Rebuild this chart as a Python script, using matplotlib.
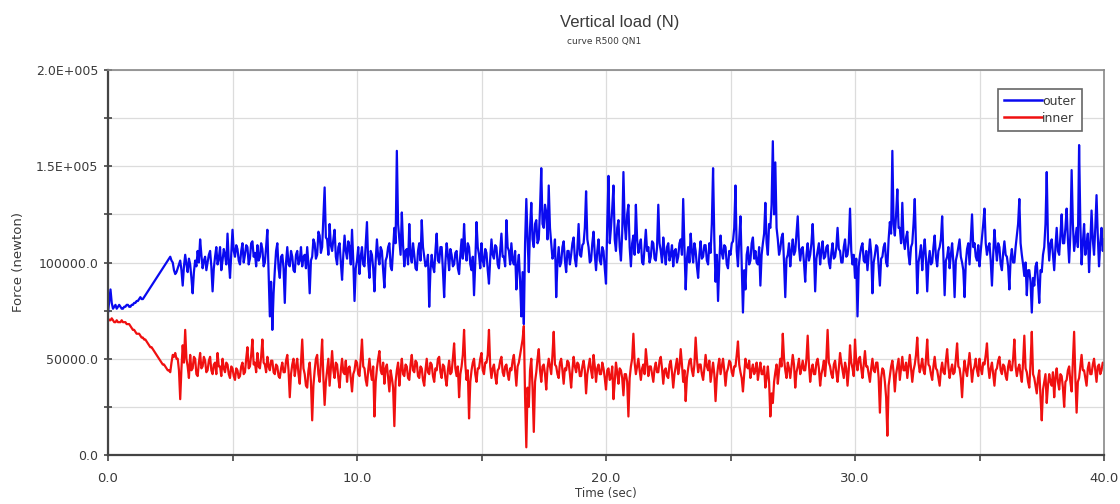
import numpy as np
import matplotlib
matplotlib.use("Agg")
import matplotlib.pyplot as plt
from matplotlib.ticker import MultipleLocator, FuncFormatter

# time base, one reading every 0.05 s from 0 to 40 s
time_step = 0.05

# outer wheel vertical load, kN, 20 readings per second
outer_kn = [
    74, 80, 86, 79, 76, 77, 78, 76, 77, 78, 77, 76, 76, 77, 77, 78, 78, 77, 77, 78,
    78, 79, 79, 80, 80, 81, 82, 81, 81, 82, 83, 84, 85, 86, 87, 88, 89, 90, 91, 92,
    93, 94, 95, 96, 97, 98, 99, 100, 101, 102, 103, 101, 100, 96, 94, 95, 97, 99, 101, 96,
    88, 98, 104, 99, 95, 102, 99, 92, 84, 95, 101, 98, 106, 100, 112, 104, 97, 101, 103, 96,
    100, 104, 106, 98, 85, 97, 103, 108, 99, 102, 108, 96, 101, 107, 104, 99, 115, 101, 92, 104,
    117, 106, 103, 109, 107, 101, 99, 106, 110, 100, 104, 109, 108, 99, 102, 110, 111, 103, 105, 98,
    109, 101, 103, 110, 107, 98, 100, 108, 117, 95, 72, 90, 65, 84, 96, 106, 110, 97, 92, 103,
    104, 97, 79, 100, 108, 99, 98, 106, 103, 96, 95, 104, 106, 99, 101, 108, 98, 103, 104, 97,
    108, 99, 84, 101, 103, 112, 110, 102, 104, 116, 114, 105, 108, 124, 139, 113, 112, 104, 120, 109,
    106, 112, 117, 103, 99, 108, 110, 100, 91, 104, 114, 106, 102, 111, 108, 99, 117, 101, 80, 97,
    101, 108, 94, 103, 108, 99, 98, 110, 121, 100, 92, 106, 104, 97, 85, 101, 112, 103, 99, 108,
    106, 96, 87, 101, 103, 108, 110, 98, 96, 107, 118, 110, 158, 120, 112, 104, 126, 109, 98, 106,
    107, 99, 120, 104, 100, 110, 104, 97, 96, 106, 110, 101, 122, 108, 103, 98, 99, 104, 77, 96,
    104, 98, 95, 106, 115, 101, 100, 108, 108, 96, 82, 100, 110, 104, 96, 107, 104, 98, 99, 105,
    106, 97, 94, 104, 112, 102, 120, 106, 101, 110, 108, 99, 96, 103, 83, 100, 121, 108, 104, 97,
    110, 101, 98, 107, 105, 96, 89, 102, 112, 104, 102, 109, 108, 99, 97, 106, 115, 103, 103, 98,
    122, 108, 106, 99, 110, 101, 99, 106, 86, 98, 104, 90, 72, 95, 68, 110, 133, 112, 95, 118,
    131, 112, 108, 120, 122, 110, 112, 128, 149, 120, 118, 130, 126, 112, 140, 118, 110, 102, 104, 112,
    82, 100, 108, 98, 100, 108, 111, 101, 95, 106, 106, 99, 104, 110, 113, 102, 98, 107, 120, 104,
    103, 109, 110, 118, 137, 112, 108, 100, 101, 110, 116, 104, 96, 106, 112, 101, 99, 108, 106, 97,
    89, 120, 145, 110, 118, 128, 140, 112, 106, 118, 122, 108, 101, 115, 147, 120, 112, 125, 130, 108,
    98, 110, 114, 104, 130, 112, 105, 109, 112, 100, 99, 108, 117, 106, 108, 100, 103, 111, 110, 102,
    101, 108, 130, 110, 106, 100, 113, 105, 99, 108, 110, 101, 104, 109, 98, 106, 107, 100, 103, 110,
    112, 104, 133, 108, 86, 102, 108, 100, 115, 106, 100, 110, 106, 98, 92, 104, 111, 102, 103, 109,
    109, 101, 99, 110, 105, 120, 149, 112, 90, 104, 80, 100, 114, 105, 102, 109, 108, 99, 97, 106,
    104, 110, 111, 118, 140, 106, 98, 112, 124, 100, 74, 96, 86, 104, 108, 99, 101, 110, 113, 102,
    106, 100, 99, 108, 88, 104, 110, 115, 131, 110, 104, 120, 118, 130, 163, 125, 152, 118, 112, 104,
    107, 113, 115, 100, 82, 102, 104, 110, 98, 106, 112, 104, 106, 115, 124, 108, 101, 107, 108, 100,
    90, 104, 110, 101, 104, 110, 120, 106, 85, 102, 106, 110, 99, 106, 111, 102, 103, 108, 109, 100,
    97, 105, 110, 102, 103, 108, 118, 107, 106, 100, 100, 108, 112, 103, 104, 110, 128, 106, 99, 104,
    92, 102, 72, 98, 104, 108, 110, 101, 100, 106, 96, 104, 112, 105, 84, 100, 104, 109, 108, 98,
    88, 102, 103, 108, 110, 100, 98, 112, 121, 115, 158, 120, 114, 125, 138, 118, 118, 110, 131, 112,
    107, 113, 116, 104, 99, 108, 110, 120, 133, 108, 84, 100, 104, 109, 96, 105, 112, 102, 85, 100,
    106, 99, 100, 108, 114, 103, 98, 106, 108, 112, 124, 104, 83, 101, 103, 108, 97, 104, 110, 100,
    82, 101, 104, 108, 112, 103, 100, 96, 82, 100, 107, 110, 99, 112, 125, 108, 110, 103, 101, 109,
    98, 106, 113, 120, 128, 110, 104, 108, 110, 101, 88, 104, 117, 108, 101, 110, 108, 99, 96, 105,
    111, 104, 103, 98, 86, 102, 107, 100, 100, 108, 114, 120, 133, 110, 104, 99, 93, 100, 83, 96,
    96, 90, 74, 92, 88, 98, 100, 90, 79, 96, 95, 104, 108, 120, 147, 112, 101, 110, 112, 104,
    96, 108, 118, 106, 104, 114, 125, 110, 110, 118, 128, 112, 100, 115, 148, 120, 106, 112, 118, 108,
    161, 120, 99, 110, 120, 104, 109, 115, 95, 110, 127, 112, 104, 118, 135, 114, 98, 110, 118, 106,
    112,
]

# inner wheel vertical load, kN, same time base
inner_kn = [
    71, 70, 70, 71, 70, 69, 69, 70, 69, 69, 69, 70, 69, 69, 69, 68, 68, 68, 67, 66,
    65, 65, 64, 63, 63, 63, 62, 61, 61, 60, 60, 59, 58, 57, 56, 56, 55, 54, 53, 52,
    51, 50, 49, 48, 47, 47, 46, 45, 44, 44, 43, 48, 52, 51, 53, 50, 50, 44, 29, 45,
    57, 48, 65, 50, 46, 40, 52, 44, 45, 51, 50, 42, 41, 48, 53, 45, 46, 51, 49, 43,
    44, 49, 51, 44, 42, 47, 48, 42, 53, 46, 46, 41, 50, 45, 43, 48, 47, 42, 40, 46,
    45, 41, 39, 45, 44, 40, 41, 46, 48, 42, 43, 50, 56, 45, 46, 52, 60, 47, 48, 43,
    53, 46, 45, 51, 60, 48, 47, 43, 51, 46, 44, 49, 49, 43, 42, 47, 46, 41, 40, 45,
    48, 43, 43, 49, 52, 44, 30, 42, 47, 50, 41, 46, 50, 42, 37, 48, 60, 45, 42, 36,
    35, 44, 48, 38, 18, 36, 44, 50, 52, 42, 38, 48, 60, 40, 26, 38, 44, 50, 36, 45,
    54, 44, 40, 48, 47, 40, 35, 44, 50, 43, 42, 49, 38, 45, 46, 40, 33, 42, 44, 49,
    48, 42, 41, 50, 60, 46, 45, 39, 36, 44, 50, 43, 39, 46, 20, 38, 45, 50, 54, 44,
    42, 48, 37, 45, 47, 40, 33, 44, 40, 35, 15, 38, 44, 48, 36, 44, 50, 42, 41, 47,
    46, 40, 39, 47, 52, 44, 43, 49, 48, 41, 40, 46, 45, 39, 36, 44, 50, 43, 42, 48,
    47, 41, 38, 45, 44, 50, 51, 43, 40, 47, 46, 40, 36, 44, 49, 42, 43, 50, 58, 45,
    41, 46, 30, 42, 46, 52, 65, 47, 39, 44, 19, 38, 44, 48, 50, 42, 38, 45, 45, 50,
    53, 44, 42, 48, 48, 52, 65, 46, 40, 45, 47, 41, 37, 44, 45, 49, 51, 43, 41, 46,
    47, 42, 39, 45, 44, 49, 52, 44, 36, 46, 48, 52, 56, 60, 67, 30, 4, 35, 25, 44,
    50, 35, 12, 38, 43, 50, 55, 44, 38, 46, 47, 42, 34, 45, 50, 46, 42, 52, 64, 47,
    46, 42, 40, 48, 50, 44, 37, 45, 44, 49, 48, 42, 35, 44, 51, 46, 43, 48, 47, 41,
    41, 46, 49, 44, 32, 42, 46, 50, 44, 40, 52, 46, 38, 45, 47, 42, 42, 48, 45, 40,
    34, 44, 45, 39, 40, 46, 29, 38, 48, 43, 37, 45, 44, 40, 31, 42, 42, 38, 20, 40,
    46, 50, 63, 48, 42, 46, 50, 44, 39, 45, 47, 42, 55, 48, 41, 46, 46, 42, 38, 45,
    48, 43, 43, 49, 51, 45, 37, 44, 45, 41, 40, 47, 49, 43, 35, 42, 46, 50, 42, 46,
    55, 47, 38, 44, 28, 40, 45, 49, 50, 44, 41, 47, 61, 50, 43, 47, 47, 42, 39, 45,
    52, 46, 44, 49, 38, 43, 48, 42, 28, 40, 46, 50, 42, 46, 50, 44, 36, 43, 45, 49,
    48, 43, 41, 46, 46, 52, 59, 47, 43, 40, 33, 42, 50, 46, 45, 49, 40, 44, 47, 42,
    44, 48, 39, 44, 48, 42, 42, 46, 35, 40, 46, 38, 20, 32, 27, 38, 43, 47, 37, 44,
    50, 46, 63, 50, 44, 40, 48, 45, 40, 46, 52, 47, 35, 43, 46, 50, 42, 45, 49, 44,
    44, 50, 62, 47, 38, 44, 47, 42, 42, 48, 50, 45, 36, 42, 45, 49, 41, 50, 65, 48,
    46, 42, 40, 47, 49, 43, 38, 45, 53, 48, 44, 40, 48, 45, 36, 44, 57, 48, 45, 41,
    60, 48, 44, 50, 51, 45, 40, 47, 54, 46, 46, 42, 38, 45, 50, 44, 43, 48, 48, 40,
    22, 40, 45, 44, 38, 30, 10, 36, 41, 46, 49, 43, 33, 42, 46, 50, 39, 45, 51, 44,
    44, 48, 40, 46, 52, 45, 38, 44, 47, 52, 61, 48, 43, 46, 50, 44, 42, 50, 60, 47,
    46, 42, 39, 46, 51, 45, 44, 40, 36, 44, 48, 43, 42, 49, 55, 46, 40, 44, 47, 42,
    43, 50, 58, 46, 45, 40, 30, 42, 49, 44, 41, 47, 53, 46, 38, 44, 46, 50, 44, 41,
    50, 45, 42, 48, 47, 52, 58, 46, 40, 45, 48, 42, 36, 44, 45, 49, 51, 44, 42, 47,
    46, 41, 39, 46, 49, 44, 44, 50, 60, 46, 41, 45, 47, 42, 38, 48, 62, 45, 43, 38,
    35, 48, 64, 42, 40, 36, 32, 40, 44, 30, 18, 34, 38, 42, 27, 36, 42, 38, 36, 43,
    30, 40, 45, 38, 34, 42, 41, 35, 25, 38, 39, 44, 46, 38, 33, 48, 64, 40, 22, 38,
    40, 46, 52, 44, 44, 40, 36, 45, 48, 42, 42, 47, 50, 44, 38, 46, 47, 42, 44, 48,
    47,
]

series_labels = ["outer", "inner"]
y_tick_labels = {0: "0.0", 50000: "50000.0", 100000: "100000.0",
                 150000: "1.5E+005", 200000: "2.0E+005"}

outer = np.array(outer_kn) * 1000.0
inner = np.array(inner_kn) * 1000.0
t = np.arange(len(outer)) * time_step

plt.rcParams['font.family'] = ['DejaVu Sans']
text_col = '#3a3a3a'

fig = plt.figure(figsize=(11.2, 5.04), dpi=100)
ax = fig.add_axes([108 / 1120, 49 / 504, 996 / 1120, 385 / 504])

ax.plot(t, outer, color='#0a0af0', lw=1.6, label=series_labels[0])
ax.plot(t, inner, color='#f01010', lw=1.6, label=series_labels[1])

ax.set_xlim(0, 40)
ax.set_ylim(0, 200000)
ax.xaxis.set_major_locator(MultipleLocator(5))
ax.yaxis.set_major_locator(MultipleLocator(25000))
ax.xaxis.set_major_formatter(FuncFormatter(lambda v, p: f"{v:.1f}" if round(v) % 10 == 0 else ""))
ax.yaxis.set_major_formatter(FuncFormatter(lambda v, p: y_tick_labels.get(int(round(v)), "")))
ax.grid(True, color='#dcdcdc', lw=0.9)
ax.set_axisbelow(True)

ax.tick_params(axis='y', direction='inout', length=6, width=1.2, colors='#444444',
               labelsize=9, labelcolor=text_col, pad=4)
ax.tick_params(axis='x', direction='out', length=4, width=1.2, colors='#444444',
               labelsize=9.5, labelcolor=text_col, pad=8)
for side in ['left', 'bottom']:
    ax.spines[side].set_color('#444444')
    ax.spines[side].set_linewidth(1.6)
for side in ['top', 'right']:
    ax.spines[side].set_color('#888888')
    ax.spines[side].set_linewidth(1.2)

ax.set_xlabel("Time (sec)", fontsize=8.5, color=text_col, labelpad=2)
ax.set_ylabel("Force (newton)", fontsize=9.5, color=text_col, labelpad=8)

fig.text(0.553, 0.955, "Vertical load (N)", ha='center', va='center', fontsize=12,
         color=text_col, family=['Liberation Sans', 'DejaVu Sans'])
fig.text(0.539, 0.917, "curve R500 QN1", ha='center', va='center', fontsize=6.5, color=text_col)

leg = ax.legend(loc='upper right', bbox_to_anchor=(0.984, 0.968), fontsize=9,
                handlelength=3.0, handletextpad=0.05, borderpad=0.5, labelspacing=0.3,
                fancybox=False, framealpha=1, edgecolor='#666666')
leg.get_frame().set_linewidth(1.2)
for txt in leg.get_texts():
    txt.set_color(text_col)
for line in leg.get_lines():
    line.set_linewidth(1.8)

fig.savefig("out.png", dpi=100)
